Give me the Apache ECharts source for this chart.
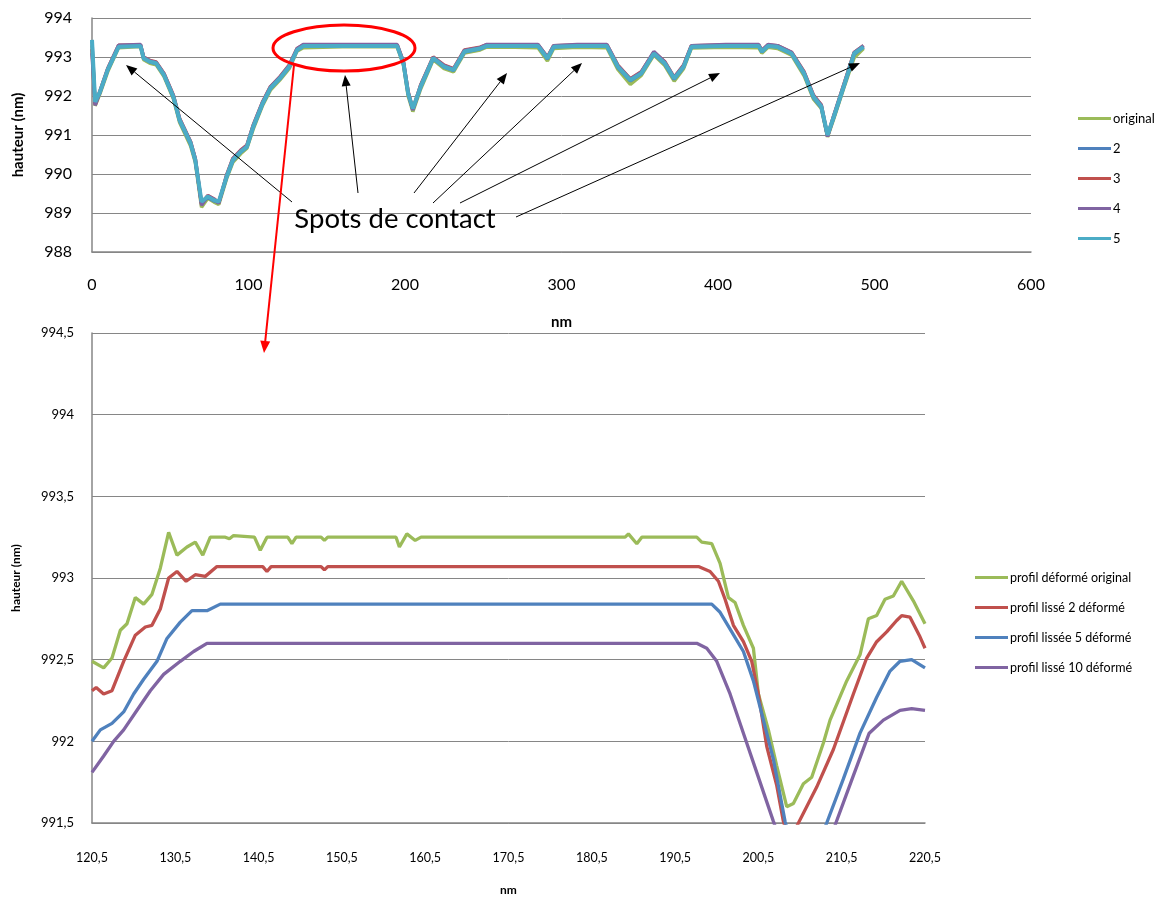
<!DOCTYPE html>
<html><head><meta charset="utf-8">
<script src="https://cdn.jsdelivr.net/npm/echarts@6/dist/echarts.min.js"></script>
<style>html,body{margin:0;padding:0;background:#fff}#c{width:1166px;height:901px}</style>
</head><body><div id="c"></div>
<script>
// ---------- Top chart data ----------
const TOP_NAMES = ['original', '2', '3', '4', '5'];
const TOP_X = [0, 2, 5, 10, 17, 31, 33, 37, 41, 46, 52, 56, 63, 66, 70, 74, 78, 81, 86, 90, 95, 99, 103, 109, 114, 120, 126, 131, 135, 160, 195, 199, 202, 205, 210, 218, 225, 231, 238, 248, 252, 270, 285, 291, 295, 310, 329, 336, 344, 351, 359, 366, 372, 378, 383, 405, 426, 428, 432, 438, 447, 455, 461, 466, 470, 474, 481, 487, 493];
const TOP_ORIGINAL = [993.30, 991.75, 992.05, 992.62, 993.24, 993.27, 992.93, 992.84, 992.80, 992.50,
  991.93, 991.32, 990.72, 990.30, 989.15, 989.38, 989.28, 989.22, 989.88, 990.30,
  990.52, 990.66, 991.15, 991.76, 992.15, 992.41, 992.70, 993.15, 993.24, 993.26,
  993.26, 992.80, 992.00, 991.60, 992.18, 992.93, 992.70, 992.62, 993.10, 993.18,
  993.25, 993.25, 993.24, 992.90, 993.22, 993.25, 993.24, 992.68, 992.30, 992.53,
  993.05, 992.78, 992.38, 992.70, 993.23, 993.25, 993.24, 993.10, 993.25, 993.22,
  993.05, 992.52, 991.92, 991.68, 990.95, 991.42, 992.28, 992.98, 993.22];
const TOP_S2 = [993.40, 991.80, 992.08, 992.66, 993.27, 993.29, 992.96, 992.87, 992.83, 992.53,
  991.96, 991.36, 990.77, 990.34, 989.25, 989.40, 989.31, 989.27, 989.91, 990.34,
  990.56, 990.69, 991.19, 991.79, 992.19, 992.44, 992.74, 993.17, 993.28, 993.29,
  993.29, 992.83, 992.05, 991.65, 992.22, 992.96, 992.74, 992.66, 993.13, 993.21,
  993.28, 993.29, 993.29, 992.95, 993.26, 993.29, 993.29, 992.73, 992.39, 992.57,
  993.08, 992.82, 992.43, 992.74, 993.26, 993.29, 993.29, 993.13, 993.29, 993.26,
  993.08, 992.56, 991.96, 991.71, 990.98, 991.45, 992.31, 993.07, 993.26];
const TOP_S3 = [993.20, 991.78, 992.12, 992.70, 993.30, 993.31, 993.00, 992.91, 992.87, 992.58,
  992.02, 991.42, 990.83, 990.40, 989.24, 989.45, 989.36, 989.26, 989.97, 990.40,
  990.61, 990.74, 991.25, 991.85, 992.24, 992.49, 992.79, 993.22, 993.31, 993.31,
  993.31, 992.88, 992.11, 991.66, 992.28, 993.00, 992.79, 992.70, 993.18, 993.25,
  993.31, 993.31, 993.31, 993.00, 993.29, 993.31, 993.31, 992.79, 992.44, 992.62,
  993.12, 992.88, 992.48, 992.79, 993.29, 993.31, 993.31, 993.17, 993.31, 993.29,
  993.12, 992.62, 992.02, 991.77, 990.97, 991.50, 992.37, 993.12, 993.29];
const TOP_S4 = [993.10, 991.76, 992.10, 992.69, 993.30, 993.32, 992.99, 992.90, 992.86, 992.57,
  992.01, 991.41, 990.82, 990.39, 989.20, 989.44, 989.35, 989.25, 989.96, 990.39,
  990.60, 990.73, 991.24, 991.84, 992.23, 992.48, 992.78, 993.21, 993.32, 993.32,
  993.32, 992.87, 992.10, 991.64, 992.27, 992.99, 992.78, 992.69, 993.17, 993.24,
  993.32, 993.32, 993.32, 992.99, 993.29, 993.32, 993.32, 992.78, 992.43, 992.61,
  993.14, 992.87, 992.47, 992.78, 993.29, 993.32, 993.32, 993.16, 993.32, 993.29,
  993.12, 992.61, 992.01, 991.76, 990.96, 991.50, 992.36, 993.11, 993.29];
const TOP_S5 = [993.44, 991.85, 992.10, 992.67, 993.26, 993.28, 992.97, 992.88, 992.84, 992.54,
  991.98, 991.38, 990.79, 990.36, 989.29, 989.42, 989.33, 989.29, 989.93, 990.36,
  990.57, 990.70, 991.21, 991.81, 992.20, 992.45, 992.75, 993.18, 993.28, 993.28,
  993.28, 992.84, 992.07, 991.68, 992.24, 992.97, 992.75, 992.67, 993.14, 993.22,
  993.28, 993.28, 993.28, 992.97, 993.26, 993.28, 993.28, 992.75, 992.41, 992.58,
  993.09, 992.84, 992.45, 992.75, 993.26, 993.28, 993.28, 993.14, 993.28, 993.26,
  993.09, 992.58, 991.98, 991.73, 991.00, 991.47, 992.33, 993.09, 993.26];

// ---------- Bottom chart data ----------
const BOT_NAMES = ['profil déformé original', 'profil lissé 2 déformé', 'profil lissée 5 déformé', 'profil lissé 10 déformé'];
const BOT_X_START = 120.5;
const BOT_ORIG_X = [120.5,121.9,122.9,123.9,124.7,125.7,126.7,127.7,128.7,129.7,130.7,131.9,132.9,133.8,134.7,136.5,137,137.5,140,140.7,141.5,144,144.5,145,148,148.4,148.8,157,157.4,158.3,159.3,160,184.5,184.9,185.9,186.5,193.1,193.7,194.9,195.9,196.9,197.7,198.7,199.9,200.5,201.7,202.7,203.9,204.7,205.9,206.9,208.3,209.1,211.1,212.7,213.7,214.7,215.7,216.7,217.7,219.1,220.5];
const BOT_ORIG_Y = [992.49,992.45,992.51,992.68,992.72,992.88,992.84,992.90,993.06,993.28,993.14,993.19,993.22,993.14,993.25,993.25,993.24,993.26,993.25,993.17,993.25,993.25,993.21,993.25,993.25,993.23,993.25,993.25,993.19,993.27,993.23,993.25,993.25,993.27,993.21,993.25,993.25,993.22,993.21,993.09,992.88,992.85,992.71,992.57,992.29,992.07,991.85,991.60,991.62,991.74,991.78,991.99,992.13,992.37,992.53,992.75,992.77,992.87,992.89,992.98,992.86,992.72];
const BOT_L2_X = [120.5,121,121.9,122.9,124.3,125.7,126.9,127.7,128.7,129.7,130.7,131.8,132.9,134.1,135.5,141,141.5,142,148,148.4,148.8,193.3,194.7,195.7,196.5,197.5,198.7,199.7,200.5,201.5,202.7,203.5,204.3,205.2,207.5,209.5,211.9,213.5,214.7,215.9,217.1,217.7,218.7,219.9,220.5];
const BOT_L2_Y = [992.31,992.33,992.29,992.31,992.49,992.65,992.70,992.71,992.81,993.00,993.04,992.98,993.02,993.01,993.07,993.07,993.04,993.07,993.07,993.05,993.07,993.07,993.04,992.98,992.87,992.71,992.61,992.49,992.29,991.97,991.73,991.51,991.38,991.49,991.72,991.95,992.29,992.51,992.61,992.67,992.74,992.77,992.76,992.64,992.57];
const BOT_L5_X = [120.5,121.5,122.9,124.3,125.5,126.7,128.3,129.5,131.1,132.5,134.3,135.9,194.9,195.9,197.3,198.7,199.9,201.1,202.3,203.7,205.7,208.7,210.7,212.7,214.7,216.3,217.5,218.9,220.5];
const BOT_L5_Y = [992.00,992.07,992.11,992.18,992.29,992.38,992.49,992.63,992.73,992.80,992.80,992.84,992.84,992.79,992.67,992.55,992.37,992.13,991.89,991.51,991.12,991.50,991.77,992.05,992.27,992.43,992.49,992.50,992.45];
const BOT_L10_X = [120.5,121.9,123.1,124.3,125.9,127.5,129.1,131.1,132.7,134.3,193.1,194.3,195.5,197.1,198.7,200.3,202.3,206.2,209.8,211.9,213.8,215.5,217.5,218.9,220.5];
const BOT_L10_Y = [991.81,991.91,992.00,992.07,992.19,992.31,992.41,992.49,992.55,992.60,992.60,992.57,992.49,992.29,992.05,991.81,991.51,990.95,991.50,991.79,992.05,992.13,992.19,992.20,992.19];

// ---------- Styling ----------
const FONT = 'Lato';
const GRID_GRAY = '#868686';
const COLORS_TOP = ['#9BBB59', '#4F81BD', '#C0504D', '#8064A2', '#4BACC6'];
const COLORS_BOT = ['#9BBB59', '#C0504D', '#4F81BD', '#8064A2'];

function zip(xs, ys, off) { return xs.map((x, i) => [x - (off || 0), ys[i]]); }
function comma(v) { return String(+v.toFixed(1)).replace('.', ','); }

const topYs = [TOP_ORIGINAL, TOP_S2, TOP_S3, TOP_S4, TOP_S5];
const botSets = [[BOT_ORIG_X, BOT_ORIG_Y], [BOT_L2_X, BOT_L2_Y], [BOT_L5_X, BOT_L5_Y], [BOT_L10_X, BOT_L10_Y]];

const series = [];
TOP_NAMES.forEach((n, i) => series.push({
  name: n, type: 'line', xAxisIndex: 0, yAxisIndex: 0, symbol: 'none', clip: true,
  data: zip(TOP_X, topYs[i]), color: COLORS_TOP[i],
  lineStyle: { width: i === 4 ? 4 : 3.5, color: COLORS_TOP[i] }, z: 2 + i
}));
BOT_NAMES.forEach((n, i) => series.push({
  name: n, type: 'line', xAxisIndex: 1, yAxisIndex: 1, symbol: 'none', clip: true,
  data: zip(botSets[i][0], botSets[i][1], BOT_X_START), color: COLORS_BOT[i],
  lineStyle: { width: 3.3, color: COLORS_BOT[i] }, z: 2
}));

// ---------- Annotations ----------
const ARROWS = [[292, 202, 126, 65], [358, 193, 345, 75], [414, 193, 507, 73], [433, 203, 582, 63], [460, 203, 720, 73], [516, 217, 860, 63]];
function arrow(x1, y1, x2, y2, color, w, len, half) {
  const dx = x2 - x1, dy = y2 - y1, L = Math.hypot(dx, dy), ux = dx / L, uy = dy / L;
  const bx = x2 - ux * len, by = y2 - uy * len;
  return [
    { type: 'line', shape: { x1: x1, y1: y1, x2: bx, y2: by }, style: { stroke: color, lineWidth: w }, z: 100 },
    { type: 'polygon', shape: { points: [[x2, y2], [bx - uy * half, by + ux * half], [bx + uy * half, by - ux * half]] }, style: { fill: color }, z: 100 }
  ];
}
const graphics = [];
ARROWS.forEach(a => graphics.push(...arrow(a[0], a[1], a[2], a[3], '#000', 1, 11, 4.5)));
graphics.push(...arrow(294, 65, 264, 353, '#FF0000', 2, 12, 5));
graphics.push({ type: 'ellipse', shape: { cx: 344, cy: 48, rx: 71, ry: 23 }, style: { fill: null, stroke: '#FF0000', lineWidth: 3 }, z: 100 });
graphics.push({ type: 'text', x: 395, y: 219, style: { text: 'Spots de contact', fontSize: 27.5, fontFamily: FONT, fill: '#000', align: 'center', verticalAlign: 'middle' }, z: 100 });

const axisLbl = (size) => ({ color: '#000', fontSize: size, fontFamily: FONT });

const option = {
  animation: false,
  backgroundColor: '#fff',
  textStyle: { fontFamily: FONT },
  grid: [
    { left: 92, top: 18, width: 939, height: 234 },
    { left: 92, top: 333, width: 833, height: 499 }
  ],
  xAxis: [
    { gridIndex: 0, type: 'value', min: 0, max: 600, interval: 100,
      name: 'nm', nameLocation: 'middle', nameGap: 63,
      nameTextStyle: { fontWeight: 'bold', fontSize: 15, color: '#000', fontFamily: FONT },
      axisLine: { show: true, onZero: false, lineStyle: { color: GRID_GRAY, width: 1.5 } },
      axisTick: { show: false }, splitLine: { show: false },
      axisLabel: Object.assign(axisLbl(16), { margin: 25 }) },
    { gridIndex: 1, type: 'value', min: 0, max: 100, interval: 10,
      name: 'nm', nameLocation: 'middle', nameGap: 61,
      nameTextStyle: { fontWeight: 'bold', fontSize: 12, color: '#000', fontFamily: FONT },
      axisLine: { show: true, onZero: false, lineStyle: { color: GRID_GRAY, width: 1.5 } },
      axisTick: { show: false }, splitLine: { show: false },
      axisLabel: Object.assign(axisLbl(12.5), { margin: 28, formatter: v => comma(v + BOT_X_START) }) }
  ],
  yAxis: [
    { gridIndex: 0, type: 'value', min: 988, max: 994, interval: 1,
      name: 'hauteur (nm)', nameLocation: 'middle', nameGap: 66,
      nameTextStyle: { fontWeight: 'bold', fontSize: 15, color: '#000', fontFamily: FONT },
      axisLine: { show: true, onZero: false, lineStyle: { color: GRID_GRAY, width: 1.5 } },
      axisTick: { show: false },
      splitLine: { show: true, lineStyle: { color: GRID_GRAY, width: 1 } },
      axisLabel: Object.assign(axisLbl(16), { margin: 20 }) },
    { gridIndex: 1, type: 'value', min: 991.5, max: 994.5, interval: 0.5,
      name: 'hauteur (nm)', nameLocation: 'middle', nameGap: 70,
      nameTextStyle: { fontWeight: 'bold', fontSize: 12, color: '#000', fontFamily: FONT },
      axisLine: { show: true, onZero: false, lineStyle: { color: GRID_GRAY, width: 1.5 } },
      axisTick: { show: false },
      splitLine: { show: true, lineStyle: { color: GRID_GRAY, width: 1 } },
      axisLabel: Object.assign(axisLbl(13), { margin: 18, formatter: v => comma(v) }) }
  ],
  legend: [
    { data: TOP_NAMES, orient: 'vertical', left: 1073, top: 107, icon: 'rect', itemWidth: 33, itemHeight: 3, itemGap: 17,
      textStyle: { color: '#000', fontSize: 13, fontFamily: FONT, padding: [0, 0, 0, -3] } },
    { data: BOT_NAMES, orient: 'vertical', left: 970, top: 566, icon: 'rect', itemWidth: 33, itemHeight: 3, itemGap: 17,
      textStyle: { color: '#000', fontSize: 12.5, fontFamily: FONT, padding: [0, 0, 0, -3] } }
  ],
  series: series,
  graphic: graphics
};
const chart = echarts.init(document.getElementById('c'), null, { renderer: 'canvas' });
chart.setOption(option);
</script></body></html>
